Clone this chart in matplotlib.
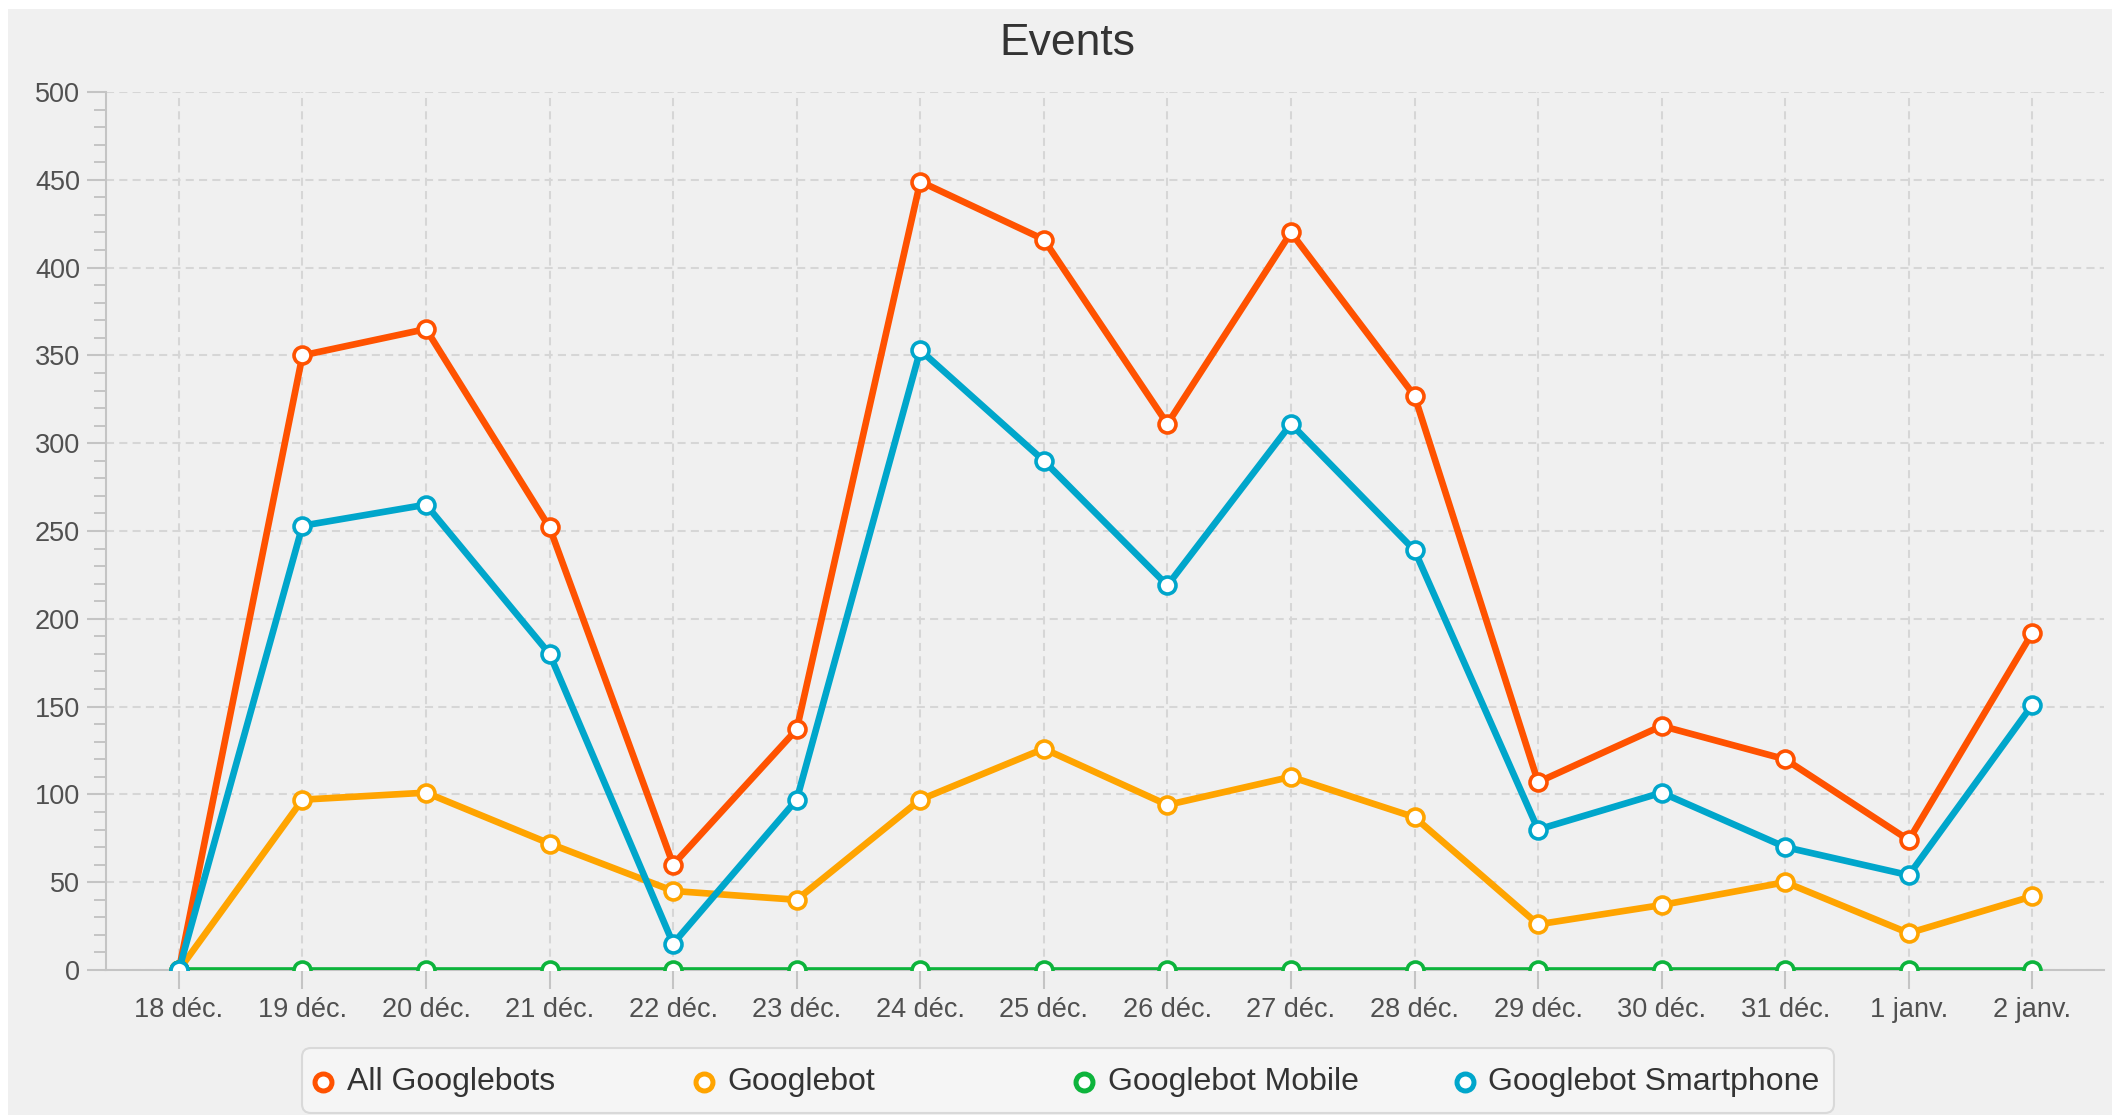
import numpy as np
import matplotlib
matplotlib.use('Agg')
import matplotlib.pyplot as plt
from matplotlib.patches import Rectangle, FancyBboxPatch
from matplotlib.ticker import MultipleLocator

plt.rcParams['font.family'] = ['Liberation Sans', 'DejaVu Sans']

days = ['18 déc.', '19 déc.', '20 déc.', '21 déc.', '22 déc.', '23 déc.', '24 déc.', '25 déc.',
        '26 déc.', '27 déc.', '28 déc.', '29 déc.', '30 déc.', '31 déc.', '1 janv.', '2 janv.']

all_bots = [0, 350, 365, 252, 60, 137, 449, 416, 311, 420, 327, 107, 139, 120, 74, 192]
googlebot = [0, 97, 101, 72, 45, 40, 97, 126, 94, 110, 87, 26, 37, 50, 21, 42]
mobile = [0] * 16
smartphone = [0, 253, 265, 180, 15, 97, 353, 290, 219, 311, 239, 80, 101, 70, 54, 151]

series_names = ['All Googlebots', 'Googlebot', 'Googlebot Mobile', 'Googlebot Smartphone']
series_vals = [all_bots, googlebot, mobile, smartphone]
colors = ['#ff5200', '#ffa400', '#0db43c', '#00a6cb']

W, H = 2112, 1115
fig = plt.figure(figsize=(W / 100, H / 100), dpi=100)
fig.patch.set_facecolor('white')

# overlay in pixel units (origin top-left) for the panel, title and legend
pix = fig.add_axes([0, 0, 1, 1], zorder=-5)
pix.set_xlim(0, W)
pix.set_ylim(H, 0)
pix.axis('off')
pix.add_patch(Rectangle((8, 9), W - 8, H - 9, facecolor='#f0f0f0', edgecolor='none'))

ax = fig.add_axes([106 / W, 1 - 970 / H, (2104 - 106) / W, (970 - 92) / H])
ax.set_facecolor('none')

x = np.arange(len(days))
for name, vals, c in zip(series_names, series_vals, colors):
    ax.plot(x, vals, color=c, lw=4.8, marker='o', ms=12.2, mew=2.6,
            mfc='white', mec=c, solid_joinstyle='round', zorder=3)

ax.set_xlim(-0.59, 15.58)
ax.set_ylim(0, 500)
ax.set_xticks(x)
ax.set_xticklabels(days)
ax.yaxis.set_major_locator(MultipleLocator(50))
ax.yaxis.set_minor_locator(MultipleLocator(10))

ax.grid(True, axis='both', which='major', color='#d6d6d6', lw=1.45,
        linestyle=(0, (4.0, 2.6)))
ax.set_axisbelow(True)

for s in ['top', 'right']:
    ax.spines[s].set_visible(False)
for s in ['left', 'bottom']:
    ax.spines[s].set_color('#c4c4c4')
    ax.spines[s].set_linewidth(1.5)

ax.tick_params(axis='both', which='major', length=13.7, width=1.5, color='#c4c4c4',
               labelsize=19.5, labelcolor='#505050')
ax.tick_params(axis='y', which='minor', length=8.6, width=1.4, color='#c4c4c4')
ax.tick_params(axis='y', which='major', pad=5)
ax.tick_params(axis='x', which='major', pad=6)

# title
pix.text(1067, 55, 'Events', ha='center', va='baseline', fontsize=32, color='#333333')

# legend, drawn like the JavaFX legend with fixed-width cells
pix.add_patch(FancyBboxPatch((302, 1048), 1532, 65,
                             boxstyle='round,pad=0,rounding_size=9',
                             facecolor='#f5f5f5', edgecolor='#d9d9d9', lw=1.5))
for i, (name, c) in enumerate(zip(series_names, colors)):
    cx = 323 + i * 380.5
    pix.plot([cx], [1082], marker='o', ms=12.2, mew=3.6, mfc='white', mec=c, ls='none')
    pix.text(cx + 24, 1090, name, ha='left', va='baseline', fontsize=23, color='#333333')

fig.savefig('out.png', dpi=100)
